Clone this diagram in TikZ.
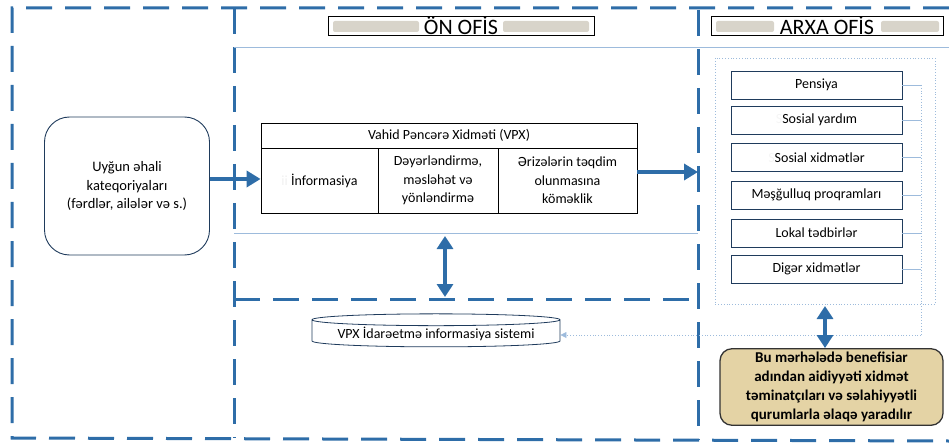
\documentclass[tikz,border=0pt]{standalone}
\usepackage{fontspec}
\setmainfont{Carlito}
\usetikzlibrary{arrows.meta,shapes.geometric,positioning}
\definecolor{frameblue}{HTML}{2E6DA8}
\definecolor{lineblue}{HTML}{9DBBDC}
\definecolor{boxedge}{HTML}{1F3B5C}
\definecolor{tanfill}{HTML}{E4D3A5}
\definecolor{barfill}{HTML}{D8D4CA}

\begin{document}
\begin{tikzpicture}[x=1pt,y=-1pt,
  frame/.style={frameblue, line width=3pt, dash pattern=on 26pt off 13pt},
  thinline/.style={lineblue, line width=0.8pt},
  dotline/.style={lineblue, line width=0.8pt, dotted},
  bigarrow/.style={frameblue, line width=4pt, -{Triangle[width=16pt,length=14pt]}},
  dblarrow/.style={frameblue, line width=4pt, {Triangle[width=16pt,length=13pt]}-{Triangle[width=16pt,length=13pt]}},
  officebox/.style={draw=black, line width=1pt, minimum height=19pt, inner sep=0pt},
  titletext/.style={font=\fontsize{22}{22}\selectfont},
  cellbox/.style={draw=black, line width=0.8pt, inner sep=2pt, align=center, font=\fontsize{14}{18.5}\selectfont},
  servicebox/.style={draw=boxedge, line width=0.9pt, minimum width=171pt, minimum height=28pt, inner sep=0pt, font=\fontsize{14}{16}\selectfont}]

\useasboundingbox (0,0) rectangle (949,446);

% FRAMES
  \draw[frame] (949,8) -- (12,8) -- (12,438) -- (949,441);
  \draw[frame] (234,8) -- (234,438);
  \draw[frame] (698,10) -- (698,440);
  \draw[frame] (234,299) -- (698,299);
  \draw[thinline] (234,47) -- (949,47);
  \draw[thinline] (234,233) -- (698,233);

% TITLES
  \fill[barfill, rounded corners=2pt] (333,21) rectangle (419,32);
  \fill[barfill, rounded corners=2pt] (503,21) rectangle (589,32);
  \node[officebox, minimum width=266pt] (onofis) at (461,26.5) {};
  \node[titletext] (ontitle) at (461,26) {ÖN OFİS};
  \fill[barfill, rounded corners=2pt] (716,21) rectangle (774,32);
  \fill[barfill, rounded corners=2pt] (881,21) rectangle (939,32);
  \node[officebox, minimum width=232pt] (arxaofis) at (827,26.5) {};
  \node[titletext] (arxatitle) at (827,26) {ARXA OFİS};

% POPULATION
  \node[draw=boxedge, line width=0.9pt, rounded corners=25pt, minimum width=165pt, minimum height=138pt,
        align=center, font=\fontsize{14.5}{18.5}\selectfont] (uygun) at (127,186)
        {Uyğun əhali\\kateqoriyaları\\(fərdlər, ailələr və s.)};

% VPX TABLE
  \node[cellbox, minimum width=376pt, minimum height=25pt] (vpx) at (449,135.5) {Vahid Pəncərə Xidməti (VPX)};
  \node[cellbox, minimum width=117pt, minimum height=65pt] (info) at (319.5,180.5) {{\color{gray!12}ii} İnformasiya};
  \node[cellbox, minimum width=120pt, minimum height=65pt] (deyer) at (438,180.5) {Dəyərləndirmə,\\məsləhət və\\yönləndirmə};
  \node[cellbox, minimum width=139pt, minimum height=65pt] (erize) at (567.5,180.5) {Ərizələrin təqdim\\olunmasına\\köməklik};

  \draw[bigarrow] ([yshift=7pt]uygun.east) -- ([yshift=7pt]uygun.east -| info.west);
  \coordinate (backedge) at (698,172);
  \draw[bigarrow] (erize.east |- backedge) -- (backedge);

% FRONT <-> SYSTEM
  \coordinate (pvtop) at (445,236);
  \coordinate (pvbot) at (445,297);
  \draw[dblarrow] (pvtop) -- (pvbot);

  \node[cylinder, shape border rotate=90, draw=boxedge, line width=0.8pt, aspect=0.06,
        minimum width=248pt, minimum height=33pt, inner sep=0pt,
        font=\fontsize{14}{16}\selectfont] (ismis) at (436,333.5) {VPX İdarəetmə informasiya sistemi};

% BACK OFFICE SERVICES
  \draw[dotline] (715,58) rectangle (935,304);
  \coordinate (svcgroup) at (825,304);
  \coordinate (bustop) at (921,85);
  \coordinate (busbot) at (921,335);
  \foreach \y/\n/\txt in {85/pensiya/Pensiya,
                          120/yardim/{{\color{gray!8}S}Sosial yardım},
                          157.5/xidmet/{{\color{gray!8}S}Sosial xidmətlər},
                          195/mesgul/Məşğulluq proqramları,
                          233/lokal/Lokal tədbirlər,
                          269/diger/Digər xidmətlər}
  {
    \node[servicebox] (\n) at (816.5,\y) {\txt};
    \draw[thinline] (\n.east) -- (\n.east -| bustop);
  }
  \draw[dotline] (bustop) -- (busbot);
  \draw[dotline, -{Triangle[width=6pt,length=6pt]}] (busbot) -- (busbot -| ismis.east);

% BENEFICIARY NOTE
  \node[draw=black!80, line width=1.3pt, fill=tanfill, rounded corners=12pt, minimum width=223pt, minimum height=76pt,
        align=center, font=\bfseries\fontsize{15}{19}\selectfont] (benef) at (831.5,387)
        {Bu mərhələdə benefisiar\\adından aidiyyəti xidmət\\təminatçıları və səlahiyyətli\\qurumlarla əlaqə yaradılır};
  \draw[dblarrow] ([yshift=-2pt]svcgroup) -- (svcgroup |- benef.north);

\end{tikzpicture}
\end{document}
